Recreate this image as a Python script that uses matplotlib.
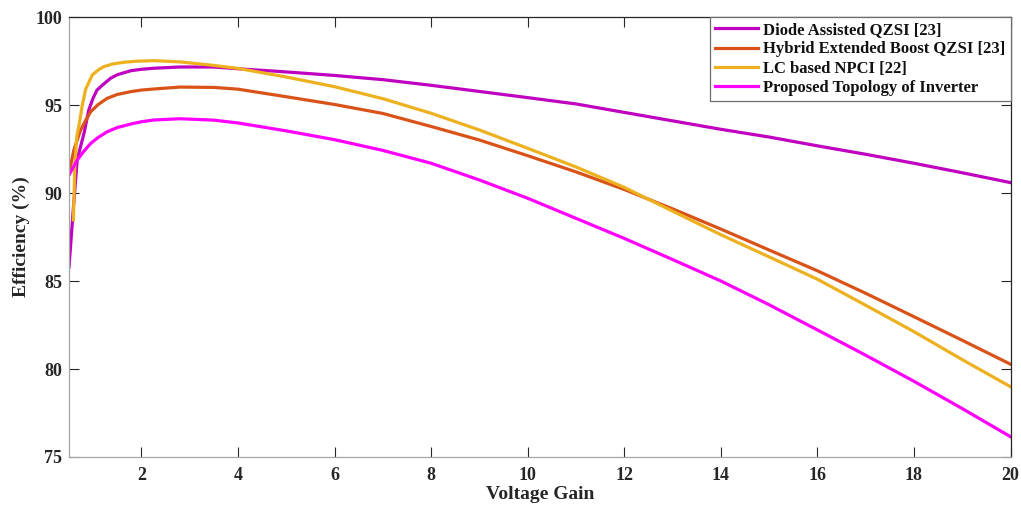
import matplotlib
matplotlib.use("Agg")
import matplotlib.pyplot as plt

plt.rcParams['font.family'] = ['Liberation Serif', 'DejaVu Serif']
plt.rcParams['font.weight'] = 'bold'

# efficiency (%) vs voltage gain for each inverter topology
gain_diode = [0.5, 0.6, 0.67, 0.81, 0.91, 1.0, 1.08, 1.2, 1.36, 1.5, 1.78, 2.0, 2.26,
              2.8, 3.5, 4, 5, 6, 7, 8, 9, 10, 11, 12, 13, 14, 15, 16, 17, 18, 19, 20]
eff_diode = [85.8, 89.5, 91.9, 93.39, 94.72, 95.4, 95.85, 96.15, 96.52, 96.72, 96.95,
             97.03, 97.09, 97.16, 97.16, 97.06, 96.88, 96.68, 96.44, 96.12, 95.77,
             95.42, 95.06, 94.58, 94.1, 93.62, 93.18, 92.68, 92.2, 91.69, 91.15, 90.59]

gain_hybrid = [0.5, 0.6, 0.74, 0.85, 0.95, 1.1, 1.29, 1.5, 1.78, 2.0, 2.26, 2.8, 3.5,
               4, 5, 6, 7, 8, 9, 10, 11, 12, 13, 14, 15, 16, 17, 18, 19, 20]
eff_hybrid = [91.1, 92.44, 93.58, 94.15, 94.62, 95.02, 95.38, 95.6, 95.76, 95.85,
              95.91, 96.02, 96.0, 95.9, 95.47, 95.03, 94.52, 93.78, 93.01, 92.12,
              91.2, 90.2, 89.1, 87.95, 86.76, 85.58, 84.3, 82.97, 81.63, 80.27]

gain_lc = [0.59, 0.62, 0.66, 0.71, 0.775, 0.845, 0.98, 1.1, 1.22, 1.4, 1.64, 1.9,
           2.26, 2.8, 3.5, 4, 5, 6, 7, 8, 9, 10, 11, 12, 13, 14, 15, 16, 17, 18,
           19, 20]
eff_lc = [88.47, 91.5, 93.2, 93.9, 95.0, 95.9, 96.7, 96.98, 97.18, 97.33, 97.43,
          97.49, 97.52, 97.45, 97.25, 97.08, 96.59, 96.04, 95.36, 94.53, 93.58,
          92.54, 91.48, 90.32, 88.97, 87.63, 86.37, 85.1, 83.62, 82.12, 80.53, 78.99]

gain_prop = [0.5, 0.67, 0.8, 0.95, 1.1, 1.29, 1.5, 1.78, 2.0, 2.26, 2.8, 3.5, 4, 5,
             6, 7, 8, 9, 10, 11, 12, 13, 14, 15, 16, 17, 18, 19, 20]
eff_prop = [91.02, 91.88, 92.35, 92.82, 93.15, 93.48, 93.72, 93.92, 94.05, 94.15,
            94.22, 94.14, 93.98, 93.53, 93.03, 92.42, 91.69, 90.74, 89.7, 88.56,
            87.42, 86.22, 85.0, 83.65, 82.22, 80.78, 79.3, 77.75, 76.15]

labels = ['Diode Assisted QZSI [23]', 'Hybrid Extended Boost QZSI [23]',
          'LC based NPCI [22]', 'Proposed Topology of Inverter']
colors = ['#C000C0', '#D95319', '#EDB120', '#FF00FF']

fig = plt.figure(figsize=(10.21, 5.08), dpi=100)
ax = fig.add_axes([0.0676, 0.1004, 0.9222, 0.8661])

series = [(gain_diode, eff_diode), (gain_hybrid, eff_hybrid),
          (gain_lc, eff_lc), (gain_prop, eff_prop)]
for (gx, ey), lab, c in zip(series, labels, colors):
    ax.plot(gx, ey, color=c, lw=2.3, label=lab, solid_joinstyle='round')

ax.set_xlim(0.5, 20)
ax.set_ylim(75, 100)
ax.set_xticks(range(2, 21, 2))
ax.set_yticks(range(75, 101, 5))
ax.tick_params(direction='in', length=7, width=0.8, colors='#262626',
               labelsize=13, top=True, right=True)
ax.tick_params(axis='x', pad=7)
ax.tick_params(axis='y', pad=5)
for side in ['left', 'bottom']:
    ax.spines[side].set_color('#a6a6a6')
for side in ['top', 'right']:
    ax.spines[side].set_color('#262626')
for s in ax.spines.values():
    s.set_linewidth(0.9)

ax.set_xlabel('Voltage Gain', fontsize=14, fontweight='bold', color='#262626', labelpad=2)
ax.set_ylabel('Efficiency (%)', fontsize=14, fontweight='bold', color='#262626', labelpad=4)

leg = ax.legend(loc='upper right', borderaxespad=0, fontsize=12, fancybox=False,
                framealpha=1, edgecolor='#6e6e6e', handlelength=2.6,
                handletextpad=0.3, labelspacing=0.2, borderpad=0.3)
leg.get_frame().set_linewidth(0.9)
for t in leg.get_texts():
    t.set_color('#111111')

fig.savefig('out.png', dpi=100)
